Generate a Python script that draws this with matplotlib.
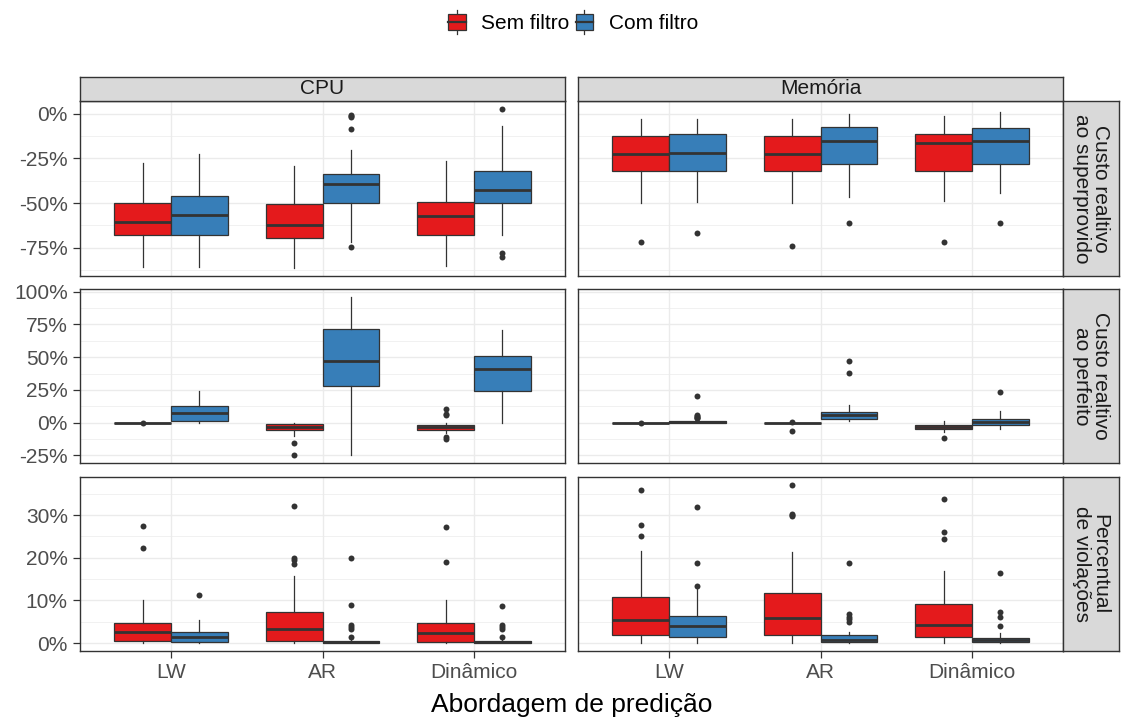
import matplotlib
matplotlib.use("Agg")
import matplotlib.pyplot as plt
from matplotlib.patches import Patch, Rectangle
from matplotlib.lines import Line2D
from matplotlib.legend_handler import HandlerBase

plt.rcParams['font.family'] = ['Liberation Sans', 'DejaVu Sans']

approaches = ["LW", "AR", "Dinâmico"]
filters = ["Sem filtro", "Com filtro"]
resources = ["CPU", "Memória"]
metrics = ["Custo realtivo\nao superprovido", "Custo realtivo\nao perfeito",
           "Percentual\nde violações"]
fill_colors = ["#E41A1C", "#377EB8"]

# box summaries in % : [whisker low, q1, median, q3, whisker high]
# order: LW sem, LW com, AR sem, AR com, Dinâmico sem, Dinâmico com
super_cpu = [[-86.0, -68.0, -60.7, -49.8, -27.6], [-86.0, -67.7, -57.0, -46.0, -22.6],
             [-86.5, -69.7, -62.2, -50.4, -29.0], [-71.8, -50.2, -39.5, -33.6, -20.3],
             [-85.5, -68.2, -57.5, -49.6, -26.5], [-67.7, -50.2, -42.5, -31.8, -6.6]]
super_cpu_out = [[], [], [], [-0.4, -1.0, -1.9, -8.5, -74.6], [], [2.8, -77.8, -80.3]]

super_mem = [[-50.2, -32.1, -22.4, -12.2, -2.6], [-49.3, -32.1, -21.8, -11.3, -2.6],
             [-50.2, -32.1, -22.4, -12.6, -2.6], [-46.6, -28.2, -15.4, -7.1, 0.0],
             [-48.7, -32.1, -16.4, -11.1, -1.1], [-44.2, -28.0, -15.4, -8.1, 0.9]]
super_mem_out = [[-72.0], [-66.6], [-73.9], [-61.3], [-72.0], [-61.3]]

perf_cpu = [[0.0, 0.0, 0.0, 0.0, 0.0], [0.0, 1.3, 7.2, 12.5, 24.5],
            [-10.0, -5.4, -3.0, -1.0, 0.0], [-24.8, 28.1, 47.3, 71.8, 96.0],
            [-8.0, -5.4, -3.3, -1.5, 0.0], [0.0, 24.3, 41.1, 51.1, 70.5]]
perf_cpu_out = [[0.0], [], [-15.3, -24.8], [], [10.2, 6.6, 5.6, -11.0, -12.3], []]

perf_mem = [[0.0, 0.0, 0.0, 0.0, 0.0], [-0.2, -0.1, 0.4, 0.9, 1.5],
            [0.0, 0.0, 0.0, 0.0, 0.0], [1.3, 3.1, 5.9, 8.4, 13.8],
            [-7.4, -5.1, -3.3, -1.5, 1.5], [-4.6, -1.8, 0.8, 2.8, 8.7]]
perf_mem_out = [[0.0], [3.2, 3.8, 4.4, 4.9, 5.9, 20.0], [0.8, -6.6], [37.8, 47.3],
                [-11.5], [23.0]]

viol_cpu = [[0.0, 0.6, 2.7, 4.8, 10.2], [0.0, 0.3, 1.4, 2.7, 5.5],
            [0.0, 0.6, 3.4, 7.4, 15.7], [0.0, 0.0, 0.2, 0.5, 1.0],
            [0.0, 0.3, 2.4, 4.8, 10.2], [0.0, 0.0, 0.2, 0.4, 0.8]]
viol_cpu_out = [[22.4, 27.4], [11.3], [18.6, 19.4, 20.0, 32.1], [1.4, 3.4, 3.8, 4.3, 9.0, 20.0],
                [19.0, 27.3], [1.4, 3.4, 3.8, 4.3, 8.7]]

viol_mem = [[0.0, 1.9, 5.3, 10.9, 21.7], [0.0, 1.5, 4.1, 6.3, 12.9],
            [0.0, 1.9, 5.9, 11.7, 21.3], [0.0, 0.2, 0.7, 2.0, 2.7],
            [0.0, 1.5, 4.2, 9.1, 16.9], [0.0, 0.2, 0.7, 1.3, 2.4]]
viol_mem_out = [[25.1, 27.7, 36.0], [13.4, 18.9, 31.9], [29.8, 30.0, 30.3, 37.1],
                [4.9, 5.6, 6.2, 6.9, 18.9], [24.3, 26.0, 33.9], [3.9, 6.2, 7.3, 16.4]]

row_stats = [[super_cpu, super_mem], [perf_cpu, perf_mem], [viol_cpu, viol_mem]]
row_outs = [[super_cpu_out, super_mem_out], [perf_cpu_out, perf_mem_out],
            [viol_cpu_out, viol_mem_out]]
row_breaks = [[-75, -50, -25, 0], [-25, 0, 25, 50, 75, 100], [0, 10, 20, 30]]

EDGE = "#333333"
GRID = "#EBEBEB"
W, H = 1124, 722

fig = plt.figure(figsize=(W / 100, H / 100), dpi=100)


def px_axes(x0, y0, x1, y1):
    return fig.add_axes([x0 / W, 1 - y1 / H, (x1 - x0) / W, (y1 - y0) / H])


def strip_axes(x0, y0, x1, y1):
    st = px_axes(x0, y0, x1, y1)
    st.set_facecolor("#D9D9D9")
    st.set_xticks([])
    st.set_yticks([])
    for sp in st.spines.values():
        sp.set_color(EDGE)
        sp.set_linewidth(1.0)
    return st


col_x = [(80, 565), (578, 1063)]
row_y = [(101, 276), (289, 463), (477, 651)]

for r in range(3):
    # shared y range per row, padded like ggplot (5% each side)
    vals = []
    for c in range(2):
        for s, o in zip(row_stats[r][c], row_outs[r][c]):
            vals += s + o
    lo, hi = min(vals), max(vals)
    pad = (hi - lo) * 0.05
    ylim = (lo - pad, hi + pad)
    major = row_breaks[r]
    step = major[1] - major[0]
    minor = [t + step / 2 for t in [major[0] - step] + major]
    minor = [m for m in minor if ylim[0] <= m <= ylim[1]]

    for c in range(2):
        ax = px_axes(col_x[c][0], row_y[r][0], col_x[c][1], row_y[r][1])
        boxes = []
        positions = []
        for i in range(3):
            for f in range(2):
                k = i * 2 + f
                wl, q1, med, q3, wh = row_stats[r][c][k]
                boxes.append(dict(whislo=wl, q1=q1, med=med, q3=q3, whishi=wh,
                                  fliers=row_outs[r][c][k]))
                positions.append(i + 1 + (f - 0.5) * 0.375)
        arts = ax.bxp(boxes, positions=positions, widths=0.375, patch_artist=True,
                      showcaps=False, manage_ticks=False,
                      boxprops=dict(edgecolor=EDGE, linewidth=0.9),
                      whiskerprops=dict(color=EDGE, linewidth=0.9),
                      medianprops=dict(color=EDGE, linewidth=2.0, solid_capstyle='butt'),
                      flierprops=dict(marker='o', markersize=4.3, markerfacecolor=EDGE,
                                      markeredgewidth=0))
        for k, patch in enumerate(arts['boxes']):
            patch.set_facecolor(fill_colors[k % 2])
        for art in arts['boxes'] + arts['whiskers'] + arts['medians'] + arts['fliers']:
            art.set_zorder(3)

        ax.set_xlim(0.4, 3.6)
        ax.set_ylim(*ylim)
        ax.set_yticks(major)
        ax.set_yticks(minor, minor=True)
        ax.set_xticks([1, 2, 3])
        ax.grid(which='major', color=GRID, linewidth=1.0, zorder=0)
        ax.grid(which='minor', axis='y', color=GRID, linewidth=0.5, zorder=0)
        ax.set_axisbelow(True)
        for sp in ax.spines.values():
            sp.set_color(EDGE)
            sp.set_linewidth(1.0)
        ax.tick_params(which='minor', length=0)
        ax.tick_params(which='major', length=4.8, width=0.9, color=EDGE,
                       labelsize=15, labelcolor="#4D4D4D", pad=4)
        if c == 0:
            ax.set_yticklabels([f"{v:.0f}%" for v in major])
        else:
            ax.tick_params(axis='y', length=0, labelleft=False)
        if r == 2:
            ax.set_xticklabels(approaches)
        else:
            ax.tick_params(axis='x', length=0, labelbottom=False)

        if r == 0:
            st = strip_axes(col_x[c][0], 77, col_x[c][1], 101)
            st.text(0.5, 0.5, resources[c], ha='center', va='center', fontsize=15,
                    color="#1A1A1A", transform=st.transAxes)

    st = strip_axes(1063, row_y[r][0], 1119, row_y[r][1])
    st.text(0.5, 0.5, metrics[r], ha='center', va='center', rotation=-90,
            multialignment='center', fontsize=15, color="#1A1A1A",
            linespacing=0.95, transform=st.transAxes)

fig.text(571.5 / W, 1 - 705 / H, "Abordagem de predição", ha='center', va='center',
         fontsize=19, color="black")


class BoxKey(HandlerBase):
    # small boxplot glyph for the legend keys
    def create_artists(self, legend, orig_handle, xdescent, ydescent, width, height,
                       fontsize, trans):
        x0, y0 = -xdescent, -ydescent
        cx = x0 + width / 2
        whisk = Line2D([cx, cx], [y0, y0 + height], color=EDGE, lw=0.9, transform=trans)
        rect = Rectangle((x0, y0 + height * 0.15), width, height * 0.7,
                         facecolor=orig_handle.get_facecolor(), edgecolor=EDGE, lw=0.9,
                         transform=trans)
        med = Line2D([x0, x0 + width], [y0 + height / 2] * 2, color=EDGE, lw=1.6,
                     transform=trans)
        return [whisk, rect, med]


handles = [Patch(facecolor=fc, label=lab) for fc, lab in zip(fill_colors, filters)]
fig.legend(handles=handles, loc='center', bbox_to_anchor=(573 / W, 1 - 22 / H),
           ncol=2, frameon=False, fontsize=15, handler_map={Patch: BoxKey()},
           handlelength=0.85, handleheight=1.35, handletextpad=0.75, columnspacing=0.3,
           borderpad=0)

fig.savefig("out.png", dpi=100, facecolor="white")
